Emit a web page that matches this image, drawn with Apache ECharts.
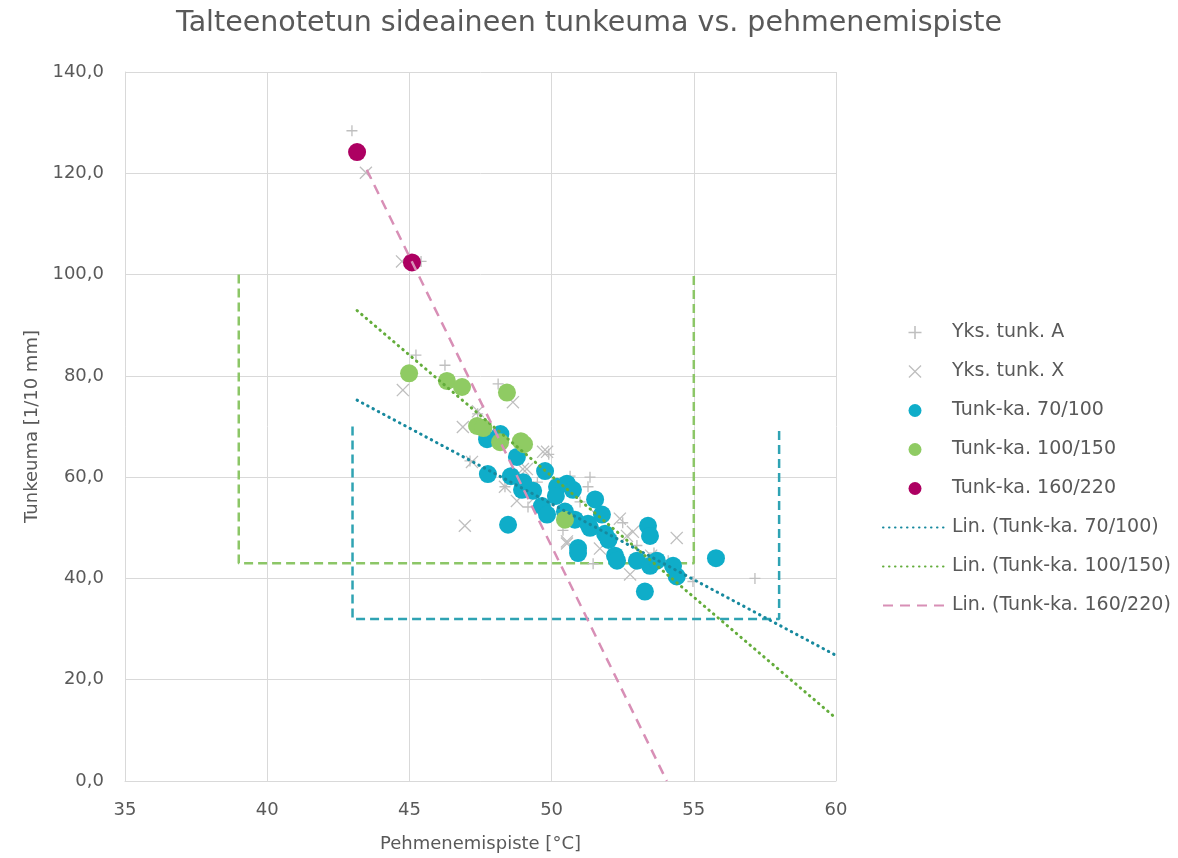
<!DOCTYPE html>
<html><head><meta charset="utf-8">
<script src="https://cdn.jsdelivr.net/npm/echarts@6/dist/echarts.min.js"></script>
<style>html,body{margin:0;padding:0;background:#fff}#c{width:1178px;height:858px}</style>
</head><body><div id="c"></div>
<script>
const titleText = 'Talteenotetun sideaineen tunkeuma vs. pehmenemispiste';
const xName = 'Pehmenemispiste [°C]';
const yName = 'Tunkeuma [1/10 mm]';
const seriesNames = ['Yks. tunk. A','Yks. tunk. X','Tunk-ka. 70/100','Tunk-ka. 100/150','Tunk-ka. 160/220','Lin. (Tunk-ka. 70/100)','Lin. (Tunk-ka. 100/150)','Lin. (Tunk-ka. 160/220)'];
const xTicks = [35,40,45,50,55,60];
const yTicks = [0,20,40,60,80,100,120,140];

const yksA = [[42.98,128.4],[45.41,102.6],[45.23,84.1],[46.25,82.1],[48.12,78.4],[47.4,72.5],[47.13,63.2],[48.36,58.1],[49.17,54.1],[49.9,64.5],[50.65,60.2],[51.35,60.0],[51.28,58.1],[51.0,55.1],[50.4,49.5],[51.46,42.9],[52.1,48.5],[52.5,51.0],[53.0,46.5],[53.6,45.0],[54.1,43.5],[54.97,39.4],[57.15,40.0],[49.5,59.0],[52.3,44.5]];
const yksX = [[43.47,120.1],[44.74,102.6],[44.77,77.2],[48.64,74.8],[47.41,73.0],[46.88,69.9],[47.2,63.0],[46.95,50.4],[49.7,65.0],[49.84,65.0],[49.13,61.6],[48.99,61.6],[48.36,58.1],[48.78,55.3],[49.4,56.0],[50.54,46.9],[50.54,47.3],[51.6,52.4],[51.7,45.9],[52.4,51.8],[52.65,48.4],[52.86,49.2],[52.76,40.8],[54.4,48.0],[53.5,44.5]];
const tk70 = [[47.73,67.5],[47.76,60.6],[48.47,50.6],[48.57,60.2],[48.78,64.0],[48.96,57.5],[49.35,57.3],[49.77,61.2],[49.66,54.3],[49.84,52.6],[50.19,58.1],[50.15,56.3],[50.54,58.7],[50.75,57.5],[50.47,53.2],[50.82,51.6],[50.93,46.0],[50.93,45.0],[51.35,50.0],[51.53,55.6],[51.77,52.6],[51.28,50.8],[51.88,48.8],[52.0,47.6],[52.23,44.5],[52.3,43.5],[53.0,43.5],[53.28,37.4],[53.39,50.4],[53.46,48.4],[53.46,42.5],[53.7,43.5],[54.27,42.5],[54.4,40.4],[55.78,44.0],[49.0,59.0],[48.2,68.5]];
const tk100 = [[44.99,80.5],[46.32,79.0],[46.85,77.8],[48.43,76.7],[47.38,70.1],[47.6,69.7],[48.19,66.9],[48.92,67.1],[49.03,66.5],[50.47,51.6]];
const tk160 = [[43.16,124.2],[45.09,102.4]];
const trend70 = [[43.16,75.2],[60,24.8]];
const trend100 = [[43.16,92.9],[60,12.4]];
const trend160 = [[43.5,120.7],[54.05,0]];
const boxGreen = [[39,100],[39,43],[55,43],[55,100]];
const boxTeal = [[43,70],[43,32],[58,32],[58,70]];

const plusPath = 'path://M4.4,0H5.6V4.4H10V5.6H5.6V10H4.4V5.6H0V4.4H4.4Z';
const crossPath = 'path://M0,0.7L0.7,0L5,4.3L9.3,0L10,0.7L5.7,5L10,9.3L9.3,10L5,5.7L0.7,10L0,9.3L4.3,5Z';
const txt = '#595959';
const font = 'DejaVu Sans';
const hideSym = {color:'rgba(0,0,0,0)',borderColor:'rgba(0,0,0,0)',borderWidth:0};

const chart = echarts.init(document.getElementById('c'));
chart.setOption({
  animation:false,
  textStyle:{fontFamily:font},
  title:{text:titleText,left:'center',top:4,textStyle:{fontFamily:font,fontSize:28.5,fontWeight:'normal',color:txt}},
  grid:{left:125,right:342,top:72,bottom:75},
  xAxis:{type:'value',min:35,max:60,interval:5,name:xName,nameLocation:'middle',nameGap:54,
    nameTextStyle:{fontFamily:font,fontSize:18,color:txt},
    axisLine:{show:true,onZero:false,lineStyle:{color:'#d9d9d9'}},axisTick:{show:false},
    axisLabel:{fontFamily:font,fontSize:18,color:txt,margin:20,formatter:v=>xTicks.includes(v)?String(v):''},
    splitLine:{show:true,lineStyle:{color:'#d9d9d9',width:1}}},
  yAxis:{type:'value',min:0,max:140,interval:20,name:yName,nameLocation:'middle',nameGap:79,
    nameTextStyle:{fontFamily:font,fontSize:18,color:txt},
    axisLine:{show:true,lineStyle:{color:'#d9d9d9'}},axisTick:{show:false},
    axisLabel:{fontFamily:font,fontSize:18,color:txt,margin:21,formatter:v=>yTicks.includes(v)?v.toFixed(1).replace('.',','):''},
    splitLine:{show:true,lineStyle:{color:'#d9d9d9',width:1}}},
  legend:{orient:'vertical',left:877,top:318,itemWidth:64,itemHeight:13,itemGap:20,
    textStyle:{fontFamily:font,fontSize:19,color:txt},
    data:[{name:seriesNames[0],icon:plusPath},{name:seriesNames[1],icon:crossPath},
      {name:seriesNames[2],icon:'circle'},{name:seriesNames[3],icon:'circle'},{name:seriesNames[4],icon:'circle'},
      {name:seriesNames[5],itemStyle:hideSym},{name:seriesNames[6],itemStyle:hideSym},{name:seriesNames[7],itemStyle:hideSym}]},
  series:[
    {type:'line',data:boxGreen,symbol:'none',silent:true,z:1,lineStyle:{color:'#8cc667',width:2.5,type:[9,5]}},
    {type:'line',data:boxTeal,symbol:'none',silent:true,z:1,lineStyle:{color:'#2fa3b3',width:2.5,type:[9,5]}},
    {name:seriesNames[0],type:'scatter',data:yksA,symbol:plusPath,symbolSize:11,z:2,itemStyle:{color:'#bfbfbf',opacity:1}},
    {name:seriesNames[1],type:'scatter',data:yksX,symbol:crossPath,symbolSize:13,z:2,itemStyle:{color:'#bfbfbf',opacity:1}},
    {name:seriesNames[2],type:'scatter',data:tk70,symbol:'circle',symbolSize:18,z:3,itemStyle:{color:'#0fadc9',opacity:1}},
    {name:seriesNames[3],type:'scatter',data:tk100,symbol:'circle',symbolSize:18,z:3,itemStyle:{color:'#8fcb63',opacity:1}},
    {name:seriesNames[4],type:'scatter',data:tk160,symbol:'circle',symbolSize:18,z:3,itemStyle:{color:'#ad0062',opacity:1}},
    {name:seriesNames[5],type:'line',data:trend70,symbol:'none',z:4,itemStyle:{color:'#17899e'},lineStyle:{color:'#17899e',width:3,type:[0.5,5.5],cap:'round'}},
    {name:seriesNames[6],type:'line',data:trend100,symbol:'none',z:4,itemStyle:{color:'#64ad3c'},lineStyle:{color:'#64ad3c',width:3,type:[0.5,5.5],cap:'round'}},
    {name:seriesNames[7],type:'line',data:trend160,symbol:'none',z:4,itemStyle:{color:'#d88fb6'},lineStyle:{color:'#d88fb6',width:2.5,type:[10,7]}}
  ]
});
</script></body></html>
